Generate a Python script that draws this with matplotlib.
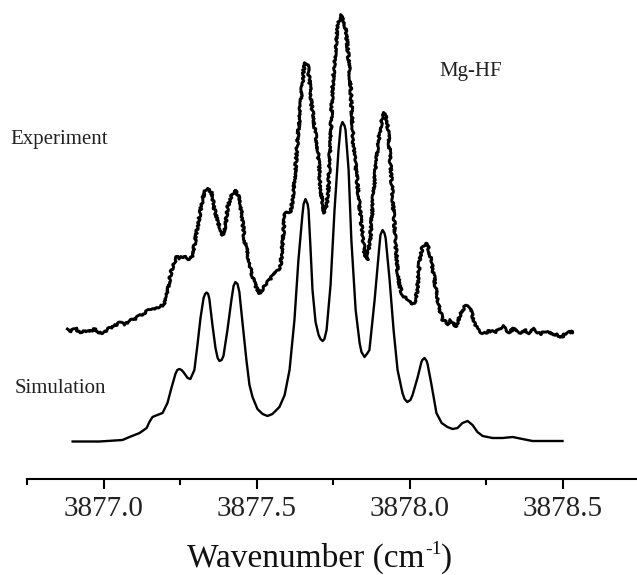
import matplotlib
matplotlib.use("Agg")
import matplotlib.pyplot as plt
from matplotlib.ticker import FixedLocator

plt.rcParams['font.family'] = ['Liberation Serif', 'DejaVu Serif']

# Experiment trace (wavenumber, intensity in arb. units)
exp_wn = [3876.882, 3876.895, 3876.908, 3876.922, 3876.938, 3876.954, 3876.971, 3876.987,
          3877.003, 3877.020, 3877.036, 3877.052, 3877.069, 3877.085, 3877.101, 3877.118,
          3877.134, 3877.150, 3877.167, 3877.183, 3877.199, 3877.206, 3877.216, 3877.222,
          3877.232, 3877.239, 3877.248, 3877.261, 3877.271, 3877.281, 3877.288, 3877.297,
          3877.307, 3877.317, 3877.324, 3877.330, 3877.337, 3877.346, 3877.353, 3877.363,
          3877.373, 3877.382, 3877.389, 3877.399, 3877.405, 3877.415, 3877.422, 3877.431,
          3877.441, 3877.451, 3877.461, 3877.471, 3877.480, 3877.490, 3877.500, 3877.510,
          3877.520, 3877.529, 3877.542, 3877.556, 3877.569, 3877.578, 3877.585, 3877.592,
          3877.601, 3877.611, 3877.618, 3877.627, 3877.637, 3877.647, 3877.654, 3877.660,
          3877.667, 3877.673, 3877.680, 3877.686, 3877.696, 3877.703, 3877.709, 3877.716,
          3877.722, 3877.729, 3877.735, 3877.742, 3877.748, 3877.758, 3877.765, 3877.771,
          3877.778, 3877.784, 3877.791, 3877.797, 3877.807, 3877.817, 3877.827, 3877.833,
          3877.843, 3877.853, 3877.863, 3877.873, 3877.882, 3877.892, 3877.902, 3877.912,
          3877.918, 3877.925, 3877.931, 3877.938, 3877.944, 3877.954, 3877.961, 3877.967,
          3877.977, 3877.987, 3878.000, 3878.016, 3878.026, 3878.033, 3878.042, 3878.052,
          3878.062, 3878.072, 3878.082, 3878.088, 3878.098, 3878.108, 3878.118, 3878.124,
          3878.134, 3878.141, 3878.147, 3878.154, 3878.163, 3878.170, 3878.180, 3878.186,
          3878.196, 3878.203, 3878.212, 3878.219, 3878.229, 3878.245, 3878.261, 3878.278,
          3878.294, 3878.304, 3878.314, 3878.327, 3878.343, 3878.359, 3878.376, 3878.392,
          3878.408, 3878.425, 3878.441, 3878.458, 3878.474, 3878.490, 3878.500, 3878.510,
          3878.523, 3878.533]
exp_int = [150, 148, 151, 146, 149, 147, 150, 146,
           147, 151, 153, 156, 155, 158, 160, 163,
           166, 170, 169, 172, 175, 182, 199, 209,
           217, 222, 221, 223, 221, 220, 221, 234,
           251, 269, 279, 288, 291, 289, 286, 269,
           257, 251, 244, 254, 271, 281, 285, 289,
           283, 267, 239, 224, 211, 199, 191, 186,
           189, 194, 199, 204, 209, 212, 234, 264,
           267, 267, 279, 309, 349, 386, 409, 416,
           415, 399, 374, 361, 339, 319, 292, 274,
           266, 274, 292, 339, 389, 429, 452, 459,
           464, 459, 451, 434, 396, 332, 304, 286,
           254, 226, 219, 244, 284, 319, 346, 363,
           366, 359, 346, 314, 286, 239, 209, 194,
           184, 181, 177, 175, 189, 219, 232, 236,
           231, 217, 199, 186, 171, 159, 157, 154,
           159, 157, 153, 152, 162, 167, 172, 173,
           171, 166, 157, 152, 147, 146, 148, 147,
           149, 154, 149, 147, 151, 146, 149, 146,
           150, 145, 147, 146, 145, 143, 142, 146,
           147, 147]

# Simulation trace
sim_wn = [3876.899, 3876.987, 3877.062, 3877.085, 3877.118, 3877.141, 3877.150, 3877.160,
          3877.176, 3877.193, 3877.209, 3877.222, 3877.235, 3877.241, 3877.248, 3877.255,
          3877.261, 3877.275, 3877.284, 3877.297, 3877.307, 3877.317, 3877.327, 3877.332,
          3877.337, 3877.342, 3877.346, 3877.356, 3877.366, 3877.373, 3877.379, 3877.386,
          3877.392, 3877.405, 3877.418, 3877.425, 3877.431, 3877.438, 3877.444, 3877.454,
          3877.467, 3877.477, 3877.487, 3877.503, 3877.520, 3877.536, 3877.552, 3877.575,
          3877.592, 3877.608, 3877.624, 3877.637, 3877.650, 3877.654, 3877.660, 3877.667,
          3877.670, 3877.676, 3877.683, 3877.693, 3877.703, 3877.709, 3877.716, 3877.722,
          3877.729, 3877.742, 3877.755, 3877.768, 3877.775, 3877.781, 3877.788, 3877.791,
          3877.801, 3877.810, 3877.824, 3877.837, 3877.843, 3877.853, 3877.863, 3877.869,
          3877.886, 3877.899, 3877.905, 3877.912, 3877.918, 3877.922, 3877.935, 3877.948,
          3877.961, 3877.977, 3877.984, 3877.993, 3878.003, 3878.010, 3878.026, 3878.039,
          3878.042, 3878.049, 3878.056, 3878.059, 3878.072, 3878.088, 3878.105, 3878.124,
          3878.141, 3878.157, 3878.173, 3878.190, 3878.206, 3878.222, 3878.239, 3878.271,
          3878.304, 3878.337, 3878.369, 3878.402, 3878.500]
sim_int = [37.5, 37.5, 39, 42, 46, 51, 57, 62,
           64, 66, 76, 91, 105, 109, 110, 109,
           107, 101, 100, 109, 134, 161, 181, 185,
           186.5, 185, 180, 154, 131, 121, 118, 119,
           123, 149, 179, 193, 197, 195, 187, 157,
           119, 94, 82, 70, 65, 63, 65, 72,
           84, 109, 159, 219, 264, 275, 280, 275,
           269, 234, 189, 157, 144, 140, 138, 140,
           149, 194, 269, 329, 352, 357, 353, 349,
           309, 239, 169, 136, 127, 122, 126, 129,
           179, 224, 244, 249, 246, 241, 199, 149,
           109, 86, 80, 77, 79, 84, 101, 117,
           119, 121, 118, 115, 94, 66, 56, 52,
           50, 51, 56, 58, 54, 47, 43, 41,
           41, 42, 40, 38, 38]

xticks = [3877.0, 3877.5, 3878.0, 3878.5]
xtick_labels = ["3877.0", "3877.5", "3878.0", "3878.5"]
xminor = [3876.75, 3877.25, 3877.75, 3878.25]

W, H = 637, 575
fig = plt.figure(figsize=(W / 100, H / 100), dpi=100)
ax = fig.add_axes([27 / W, 96 / H, 1 - 27 / W, 1 - 96 / H])

line_exp, = ax.plot(exp_wn, exp_int, color='black', lw=2.1, solid_joinstyle='round')
line_exp.set_sketch_params(scale=1.1, length=4, randomness=12)
ax.plot(sim_wn, sim_int, color='black', lw=1.7, solid_joinstyle='round')

ax.set_xlim(3876.75, 3876.75 + 610 / 306)
ax.set_ylim(0, 479)

for s in ['left', 'right', 'top']:
    ax.spines[s].set_visible(False)
ax.spines['bottom'].set_linewidth(1.5)
ax.set_yticks([])
ax.set_xticks(xticks)
ax.set_xticklabels(xtick_labels)
ax.xaxis.set_minor_locator(FixedLocator(xminor))
ax.tick_params(axis='x', which='major', direction='out', length=7, width=1.5,
               labelsize=21, pad=5, colors='black', labelcolor='#222222')
ax.tick_params(axis='x', which='minor', direction='out', length=4, width=1.5)

fig.text(10 / W, (H - 144) / H, "Experiment", fontsize=15, color='#222222',
         ha='left', va='baseline')
fig.text(15 / W, (H - 393) / H, "Simulation", fontsize=15, color='#222222',
         ha='left', va='baseline')
fig.text(439 / W, (H - 76) / H, "Mg-HF", fontsize=15, color='#222222',
         ha='left', va='baseline')

# x-axis label built from pieces so the superscript uses a plain hyphen
base_y = (H - 567) / H
t1 = fig.text(0, base_y, "Wavenumber (cm", fontsize=24, color='#111111',
              ha='left', va='baseline')
t2 = fig.text(0, base_y + 13 / H, "-1", fontsize=14, color='#111111',
              ha='left', va='baseline')
t3 = fig.text(0, base_y, ")", fontsize=24, color='#111111',
              ha='left', va='baseline')
r = fig.canvas.get_renderer()
w1 = t1.get_window_extent(r).width
w2 = t2.get_window_extent(r).width
w3 = t3.get_window_extent(r).width
x0 = 320 - (w1 + w2 + w3) / 2
t1.set_x(x0 / W)
t2.set_x((x0 + w1) / W)
t3.set_x((x0 + w1 + w2) / W)

fig.savefig("out.png", dpi=100)
